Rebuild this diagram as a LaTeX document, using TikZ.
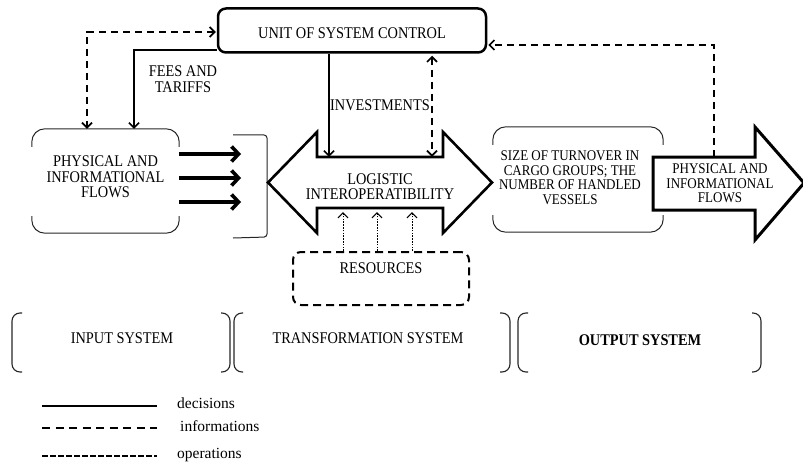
\documentclass[tikz,border=0pt]{standalone}
\usepackage{fontspec}
\setmainfont{Liberation Serif}[FakeStretch=0.88]
\newfontfamily\legfont{Liberation Serif}
\usetikzlibrary{arrows.meta,calc}
\begin{document}
\begin{tikzpicture}[x=1pt,y=-1pt,
  >={Straight Barb[length=5pt,width=10pt]},
  every node/.style={font=\fontsize{16.3}{15.5}\selectfont, inner sep=0pt, align=center},
  smalltext/.style={font=\fontsize{14.8}{14.6}\selectfont},
  legtext/.style={font=\legfont\fontsize{15.5}{16}\selectfont},
  ctrlbox/.style={draw, line width=2.5pt, rounded corners=8pt},
  frame/.style={draw=black!85, line width=1pt, rounded corners=13pt},
  bigline/.style={draw, line width=2.6pt, line join=miter, fill=white},
  dec/.style={line width=1.6pt},
  info/.style={line width=1.7pt, dash pattern=on 7pt off 5pt},
  oper/.style={line width=1pt, dash pattern=on 1.6pt off 1.2pt},
  operleg/.style={line width=2pt, dash pattern=on 5.5pt off 2.5pt},
  flowarrow/.style={line width=3.6pt, -{Straight Barb[length=7pt,width=15pt]}},
  resbox/.style={draw, line width=2pt, dash pattern=on 8pt off 5pt, rounded corners=8pt},
  paren/.style={draw=black!85, line width=1.1pt, rounded corners=8pt}
]
\useasboundingbox (0,0) rectangle (803,468);

% control unit
\node[ctrlbox, minimum width=268pt, minimum height=44pt, text height=15.5pt, text depth=0pt] (ctrl) at (352,30.5) {UNIT OF SYSTEM CONTROL};

% input flows box
\node[minimum width=147pt, minimum height=104pt, text depth=8pt] (phys) at (105.5,181) {PHYSICAL AND\\INFORMATIONAL\\FLOWS};
\draw[frame] ($(phys.north west)+(0,18)$) |- (phys.north) -| ($(phys.north east)+(0,18)$);
\draw[frame] ($(phys.south west)+(0,-17)$) |- (phys.south) -| ($(phys.south east)+(0,-17)$);

% thick input arrows
\coordinate (a1) at (241,154);
\coordinate (a2) at (241,178);
\coordinate (a3) at (241,202);
\draw[flowarrow] (phys.east |- a1) -- (a1);
\draw[flowarrow] (phys.east |- a2) -- (a2);
\draw[flowarrow] (phys.east |- a3) -- (a3);

% bracket
\draw[frame, rounded corners=3pt] (233,135) -- (267,135) -- (267,237) -- (233,238);

% logistic interoperability double arrow
\draw[bigline] (268,182.5) -- (317,132) -- (317,157) -- (443,157) -- (443,132) -- (492,182.5)
  -- (443,233) -- (443,208) -- (317,208) -- (317,233) -- cycle;
\node[minimum width=126pt, minimum height=51pt, text height=34.3pt] (shaft) at (380,182.5) {LOGISTIC\\INTEROPERATIBILITY};

% resources
\node[resbox, minimum width=176pt, minimum height=53pt, text depth=21pt] (res) at (381,278.5) {RESOURCES};

% output size box
\node[smalltext, minimum width=154pt, minimum height=105pt, text depth=4pt] (size) at (570,179.5) {SIZE OF TURNOVER IN\\CARGO GROUPS; THE\\NUMBER OF HANDLED\\VESSELS};
\draw[frame] ($(size.north west)+(0,18)$) |- (size.north) -| ($(size.north east)+(16,18)$);
\draw[frame] ($(size.south west)+(0,-17)$) |- (size.south) -| ($(size.south east)+(16,-17)$);

% output arrow
\draw[bigline, line width=3pt] (653,157) -- (755,157) -- (755,127) -- (804,183) -- (755,240)
  -- (755,210) -- (653,210) -- cycle;
\node[smalltext, minimum width=80pt, minimum height=53pt] (outarr) at (720,183.5) {PHYSICAL AND\\INFORMATIONAL\\FLOWS};

% connectors
\coordinate (xl) at (87,0);
\coordinate (xs) at (134,0);
\coordinate (xinv) at (329,0);
\coordinate (xinf) at (432,0);
\coordinate (xout) at (714,0);
\draw[info, <->, shorten <=1pt] ($(ctrl.west)+(0,1.5)$) -| (phys.north -| xl);
\draw[dec, ->] ($(ctrl.south west)+(0,-4)$) -| (phys.north -| xs);
\draw[dec, ->] (ctrl.south -| xinv) -- (shaft.north -| xinv);
\draw[info, <->, shorten <=2pt] (ctrl.south -| xinf) -- (shaft.north -| xinf);
\draw[info, ->, shorten >=1pt] (outarr.north -| xout) |- ($(ctrl.east)+(0,14.5)$);
\foreach \x [count=\i] in {343,377,412} {
  \coordinate (dx\i) at (\x,0);
  \draw[oper, ->, shorten >=4pt] (res.north -| dx\i) -- (shaft.south -| dx\i);
}

% labels
\node (fees) at (183,79) {FEES AND\\TARIFFS};
\node[anchor=west] (inv) at (330,105) {INVESTMENTS};

% system brackets
\draw[paren] (22,313) -| (12,342) |- (22,372);
\draw[paren] (221,313) -| (230,342) |- (221,372);
\draw[paren] (243,313) -| (234,342) |- (243,372);
\draw[paren] (500,313) -| (510,342) |- (500,372);
\draw[paren] (528,313) -| (518,342) |- (528,372);
\draw[paren] (752,313) -| (761,342) |- (752,372);
\node (insys) at (122,338) {INPUT SYSTEM};
\node (trsys) at (368,338) {TRANSFORMATION SYSTEM};
\node[font=\fontsize{16.3}{15.5}\selectfont\bfseries] (outsys) at (640,340) {OUTPUT SYSTEM};

% legend
\node[legtext, anchor=base west] (ldec) at (177,408) {decisions};
\node[legtext, anchor=base west] (linf) at (180,431) {informations};
\node[legtext, anchor=base west] (lop) at (177,458) {operations};
\draw[dec] (42,406) -- (157,406);
\draw[info, dash pattern=on 8pt off 5.5pt, line width=2pt] (42,428) -- (157,428);
\draw[operleg] (42,456) -- (157,456);
\end{tikzpicture}
\end{document}
